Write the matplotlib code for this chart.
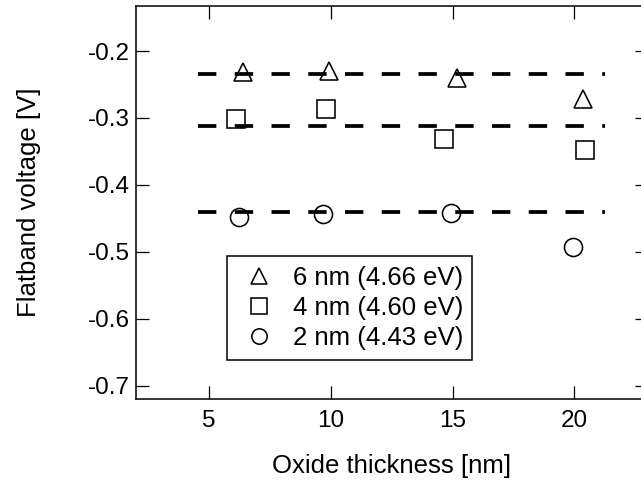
import matplotlib
matplotlib.use('Agg')
import matplotlib.pyplot as plt

plt.rcParams['font.family'] = ['Liberation Sans', 'DejaVu Sans']

## oxide thickness [nm] and flatband voltage [V]
x_6nm = [6.41, 9.93, 15.18, 20.33]
vfb_6nm = [-0.232, -0.230, -0.240, -0.272]
x_4nm = [6.13, 9.82, 14.63, 20.45]
vfb_4nm = [-0.302, -0.287, -0.332, -0.348]
x_2nm = [6.25, 9.68, 14.95, 19.95]
vfb_2nm = [-0.448, -0.444, -0.442, -0.493]

## dashed reference levels
level_x = [4.57, 21.25]
levels = [-0.234, -0.312, -0.441]

labels = ['6 nm (4.66 eV)', '4 nm (4.60 eV)', '2 nm (4.43 eV)']
xticks = [5, 10, 15, 20]
yticks = [-0.7, -0.6, -0.5, -0.4, -0.3, -0.2]

fig = plt.figure(figsize=(6.41, 4.83), dpi=100)
ax = fig.add_axes([0.2117, 0.1739, 0.7986, 0.8147])

for lv in levels:
    ax.plot(level_x, [lv, lv], color='black', lw=2.7, dashes=(4.9, 4.9), zorder=1)

ms = 13
mkw = dict(linestyle='none', markerfacecolor='none', markeredgecolor='black',
           markeredgewidth=1.15, markersize=ms, zorder=3)
ax.plot(x_6nm, vfb_6nm, marker='^', label=labels[0], **mkw)
ax.plot(x_4nm, vfb_4nm, marker='s', label=labels[1], **mkw)
ax.plot(x_2nm, vfb_2nm, marker='o', label=labels[2], **mkw)

ax.set_xlim(2, 23)
ax.set_ylim(-0.72, -0.132)
ax.set_xticks(xticks)
ax.set_yticks(yticks)
ax.set_yticklabels(['%.1f' % v for v in yticks])

ax.tick_params(direction='in', length=9.4, width=0.9, top=True, right=True,
               labelsize=17.5)
ax.tick_params(axis='x', pad=8)
ax.tick_params(axis='y', pad=4)
for s in ax.spines.values():
    s.set_linewidth(1.1)

ax.set_xlabel('Oxide thickness [nm]', fontsize=18.5, labelpad=16)
ax.set_ylabel('Flatband voltage [V]', fontsize=18.5, labelpad=34)

leg = ax.legend(loc='lower left', bbox_to_anchor=(0.1775, 0.100),
                borderaxespad=0, fontsize=18.5, frameon=True, fancybox=False,
                edgecolor='black', framealpha=1, borderpad=0.36,
                handlelength=1.77, handletextpad=0.45, labelspacing=0.25,
                markerscale=0.85)
leg.get_frame().set_linewidth(1.1)

fig.savefig('out.png', dpi=100)
